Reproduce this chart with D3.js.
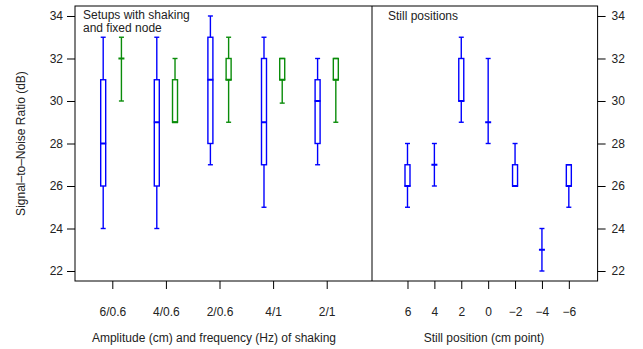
<!DOCTYPE html>
<html>
<head>
<meta charset="utf-8">
<script src="https://cdn.jsdelivr.net/npm/d3@7"></script>
<style>
  body { margin: 0; background: #fff; }
  svg { display: block; font-family: "Liberation Sans", Arial, sans-serif; }
</style>
</head>
<body>
<script>
// shaking setups: each has a blue box (moving node) and a green one (fixed node)
const shakeLabels = ["6/0.6", "4/0.6", "2/0.6", "4/1", "2/1"];
// [min, q1, median, q3, max]
const shakeBlue = [
  [24, 26, 28, 31, 33],
  [24, 26, 29, 31, 33],
  [27, 28, 31, 33, 34],
  [25, 27, 29, 32, 33],
  [27, 28, 30, 31, 32]
];
const shakeGreen = [
  [30, 32, 32, 32, 33],
  [29, 29, 29, 31, 32],
  [29, 31, 31, 32, 33],
  [29.9, 31, 31, 32, 32],
  [29, 31, 31, 32, 32]
];

// still positions
const stillLabels = ["6", "4", "2", "0", "\u22122", "\u22124", "\u22126"];
const stillBlue = [
  [25, 26, 26, 27, 28],
  [26, 27, 27, 27, 28],
  [29, 30, 30, 32, 33],
  [28, 29, 29, 29, 32],
  [26, 26, 26, 27, 28],
  [22, 23, 23, 23, 24],
  [25, 26, 26, 27, 27]
];

const yTicks = [22, 24, 26, 28, 30, 32, 34];

const width = 643, height = 349;
const plotLeft = 75, plotRight = 597.6, plotTop = 6, plotBottom = 281, divider = 372;
const blue = "#0000ff", green = "#0a8c0a";
const fontSize = 12;

const y = d3.scaleLinear().domain([21.53, 34.47]).range([plotBottom, plotTop]);
const xShake = d3.scaleLinear().domain([0.304, 5.845]).range([plotLeft, divider]);
const xStill = d3.scaleLinear().domain([-0.32, 8.07]).range([divider, plotRight]);

const svg = d3.select("body").append("svg")
  .attr("width", width)
  .attr("height", height)
  .attr("viewBox", [0, 0, width, height]);

// axes
svg.append("g")
  .attr("transform", `translate(${plotLeft},0)`)
  .call(d3.axisLeft(y).tickValues(yTicks).tickSize(8).tickPadding(4))
  .call(g => g.select(".domain").remove())
  .call(g => g.selectAll("text").attr("font-size", fontSize).attr("font-family", null).attr("fill", "#222"));

svg.append("g")
  .attr("transform", `translate(${plotRight},0)`)
  .call(d3.axisRight(y).tickValues(yTicks).tickSize(8).tickPadding(6))
  .call(g => g.select(".domain").remove())
  .call(g => g.selectAll("text").attr("font-size", fontSize).attr("font-family", null).attr("fill", "#222"));

svg.append("g")
  .attr("transform", `translate(0,${plotBottom})`)
  .call(d3.axisBottom(xShake).tickValues(d3.range(1, 6)).tickFormat(i => shakeLabels[i - 1]).tickSize(8).tickPadding(18))
  .call(g => g.select(".domain").remove())
  .call(g => g.selectAll("text").attr("font-size", fontSize).attr("font-family", null).attr("fill", "#222"));

svg.append("g")
  .attr("transform", `translate(0,${plotBottom})`)
  .call(d3.axisBottom(xStill).tickValues(d3.range(1, 8)).tickFormat(i => stillLabels[i - 1]).tickSize(8).tickPadding(18))
  .call(g => g.select(".domain").remove())
  .call(g => g.selectAll("text").attr("font-size", fontSize).attr("font-family", null).attr("fill", "#222"));

// frame and divider
svg.append("rect")
  .attr("x", plotLeft).attr("y", plotTop)
  .attr("width", plotRight - plotLeft).attr("height", plotBottom - plotTop)
  .attr("fill", "none").attr("stroke", "#000");
svg.append("line")
  .attr("x1", divider).attr("x2", divider)
  .attr("y1", plotTop).attr("y2", plotBottom)
  .attr("stroke", "#000");

// box drawing
const boxW = 5, capW = 5;
function drawBoxes(data, xs, offset, color) {
  const g = svg.append("g")
    .attr("stroke", color)
    .attr("stroke-width", 1.4);
  const grp = g.selectAll("g")
    .data(data)
    .join("g")
    .attr("transform", (d, i) => `translate(${xs(i + 1 + offset)},0)`);
  grp.append("line")
    .attr("y1", d => y(d[0])).attr("y2", d => y(d[4]));
  grp.append("rect")
    .attr("x", -boxW / 2).attr("width", boxW)
    .attr("y", d => y(d[3])).attr("height", d => y(d[1]) - y(d[3]))
    .attr("fill", "#fff");
  grp.append("line")
    .attr("x1", -boxW / 2 - 0.5).attr("x2", boxW / 2 + 0.5)
    .attr("y1", d => y(d[2])).attr("y2", d => y(d[2]))
    .attr("stroke-width", 2);
  grp.selectAll(".cap")
    .data(d => [d[0], d[4]])
    .join("line")
    .attr("class", "cap")
    .attr("x1", -capW / 2).attr("x2", capW / 2)
    .attr("y1", v => y(v)).attr("y2", v => y(v));
}

drawBoxes(shakeBlue, xShake, -0.17, blue);
drawBoxes(shakeGreen, xShake, 0.17, green);
drawBoxes(stillBlue, xStill, 0, blue);

// panel labels
const lab = svg.append("g").attr("font-size", fontSize).attr("fill", "#222");
lab.append("text").attr("x", 83).attr("y", 18.5).text("Setups with shaking");
lab.append("text").attr("x", 83).attr("y", 31.5).text("and fixed node");
lab.append("text").attr("x", 388).attr("y", 20).text("Still positions");

// axis titles
lab.append("text")
  .attr("x", 214).attr("y", 342)
  .attr("text-anchor", "middle")
  .text("Amplitude (cm) and frequency (Hz) of shaking");
lab.append("text")
  .attr("x", 484).attr("y", 342)
  .attr("text-anchor", "middle")
  .text("Still position (cm point)");
lab.append("text")
  .attr("transform", `translate(25,${(plotTop + plotBottom) / 2}) rotate(-90)`)
  .attr("text-anchor", "middle")
  .text("Signal\u2013to\u2013Noise Ratio (dB)");
</script>
</body>
</html>
